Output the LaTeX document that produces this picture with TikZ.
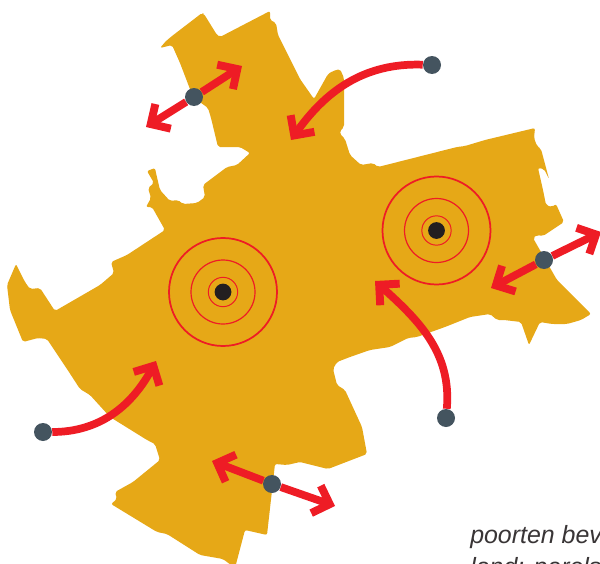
\documentclass[tikz,border=0pt]{standalone}
\usepackage{xcolor}
\usepackage{fontspec}
\setmainfont{Liberation Sans}
\usetikzlibrary{arrows.meta, backgrounds}
\definecolor{regiongold}{HTML}{E6A817}
\definecolor{gatered}{HTML}{EE1C25}
\definecolor{gateslate}{HTML}{44545F}
\definecolor{coredark}{HTML}{231F20}
\pgfdeclarearrow{
  name=GateBarb,
  setup code={
    \pgfarrowssettipend{0pt}
    \pgfarrowssetlineend{-6pt}
    \pgfarrowssetvisualbackend{-6pt}
    \pgfarrowssetbackend{-16.7pt}
    \pgfarrowshullpoint{0pt}{0pt}
    \pgfarrowshullpoint{-16.7pt}{13pt}
    \pgfarrowshullpoint{-16.7pt}{-13pt}
  },
  drawing code={
    \pgfpathmoveto{\pgfpoint{0pt}{0pt}}
    \pgfpathlineto{\pgfpoint{-13pt}{13pt}}
    \pgfpathlineto{\pgfpoint{-17.2pt}{8.8pt}}
    \pgfpathlineto{\pgfpoint{-8.4pt}{0pt}}
    \pgfpathlineto{\pgfpoint{-17.2pt}{-8.8pt}}
    \pgfpathlineto{\pgfpoint{-13pt}{-13pt}}
    \pgfpathclose
    \pgfusepathqfill
  }
}
\tikzset{
  gate/.style={circle, fill=gateslate, inner sep=0pt, minimum size=13.5pt},
  core/.style={circle, fill=coredark, inner sep=0pt, minimum size=12.6pt},
  route/.style={draw=gatered, line width=5.8pt, -{GateBarb}},
  ring/.style={draw=gatered, circle, inner sep=0pt, fill=none},
  caption/.style={font=\itshape\fontsize{18.7pt}{22pt}\selectfont, text=coredark!90, anchor=base west, inner sep=0pt}
}
\begin{document}
\begin{tikzpicture}[x=0.75pt, y=-0.75pt]
  \useasboundingbox (0,0) rectangle (600,564);
  \clip (0,0) rectangle (600,564);
  % Gates
  \node[gate] (gateNW) at (194,97) {};
  \node[gate] (gateN) at (432,65) {};
  \node[gate] (gateE) at (544,260) {};
  \node[gate] (gateSE) at (446,418) {};
  \node[gate] (gateS) at (272,484) {};
  \node[gate] (gateW) at (43,432) {};
  % Arrow ends
  \coordinate (tipNWa) at (242,66);
  \coordinate (tipNWb) at (146,127);
  \coordinate (tipN) at (291,140);
  \coordinate (tipEa) at (601,232);
  \coordinate (tipEb) at (491,288);
  \coordinate (tipSE) at (375,281);
  \coordinate (tipSa) at (212,461);
  \coordinate (tipSb) at (335,506);
  \coordinate (tipW) at (156,361);
  % Municipality outline and routes underneath
  \begin{scope}[on background layer]
    \fill[regiongold, rounded corners=1.5pt] (160,48) -- (166,41) -- (172,36) -- (202,13) -- (204,14) -- (217,35) -- (220,37)
      -- (270,11) -- (270,20) -- (276,23) -- (278,35) -- (300,79) -- (314,99) -- (328,74)
      -- (333,71) -- (340,69) -- (344,78) -- (344,127) -- (340,131) -- (340,134) -- (345,139)
      -- (350,155) -- (361,165) -- (373,163) -- (378,167) -- (457,147) -- (465,146) -- (485,140) -- (535,128)
      -- (534,138) -- (537,146) -- (541,149) -- (549,179) -- (544,169) -- (538,168) -- (543,190) -- (546,205)
      -- (552,207) -- (556,204) -- (564,222) -- (543,236) -- (537,235) -- (533,238) -- (537,245)
      -- (557,280) -- (591,314) -- (581,320) -- (567,324) -- (552,324) -- (540,322) -- (529,345) -- (521,322) -- (504,320) -- (497,320)
      -- (490,314) -- (470,317) -- (445,327) -- (417,337) -- (408,338) -- (390,347) -- (370,350) -- (350,357) -- (337,362) -- (333,369) -- (337,385)
      -- (345,390) -- (362,427) -- (367,454) -- (328,469) -- (300,462) -- (287,465) -- (275,464)
      -- (267,535) -- (245,530) -- (235,568) -- (223,559) -- (200,555) -- (167,534) -- (157,532)
      -- (111,504) -- (117,499) -- (115,492) -- (133,482) -- (160,460) -- (155,444) -- (147,440)
      -- (110,417) -- (90,395) -- (80,389) -- (67,369) -- (47,339) -- (38,338) -- (23,342)
      -- (10,310) -- (7,285) -- (16,264) -- (25,282) -- (30,289) -- (40,288) -- (55,311)
      -- (100,285) -- (114,273) -- (111,262) -- (127,255) -- (165,230) -- (152,207) -- (146,207)
      -- (151,198) -- (148,188) -- (154,183) -- (147,171) -- (155,168) -- (156,173) -- (160,190)
      -- (170,201) -- (178,200) -- (183,204) -- (197,203) -- (205,197) -- (203,185) -- (227,167)
      -- (237,165) -- (250,153) -- (240,147) -- (218,147) -- (211,118) -- (208,108) -- (193,97) -- (180,63)
      -- (172,45) -- cycle;
    % Straight routes
    \draw[route] (gateNW) -- (tipNWa);
    \draw[route] (gateNW) -- (tipNWb);
    \draw[route] (gateE) -- (tipEa);
    \draw[route] (gateE) -- (tipEb);
    \draw[route] (gateS) -- (tipSa);
    \draw[route] (gateS) -- (tipSb);
    % Curved routes
    \draw[route] (gateN) to[out=178, in=55] (tipN);
    \draw[route] (gateSE) to[out=85, in=-42] (tipSE);
    \draw[route] (gateW) to[out=0, in=-118] (tipW);
  \end{scope}
  % City cores with rings
  \node[core] (coreW) at (223,292) {};
  \node[core] (coreE) at (436.5,230.5) {};
  \foreach \corename in {coreW, coreE} {
    \node[ring, line width=0.75pt, minimum size=22pt] (\corename inner) at (\corename) {};
    \node[ring, line width=0.9pt, minimum size=48pt] (\corename mid) at (\corename) {};
    \node[ring, line width=1.3pt, minimum size=81pt] (\corename outer) at (\corename) {};
  }
  % Cut-off caption
  \node[caption] (captionA) at (470,543) {poorten bevr};
  \node[caption] (captionB) at (470,575) {land: parels};
\end{tikzpicture}
\end{document}
